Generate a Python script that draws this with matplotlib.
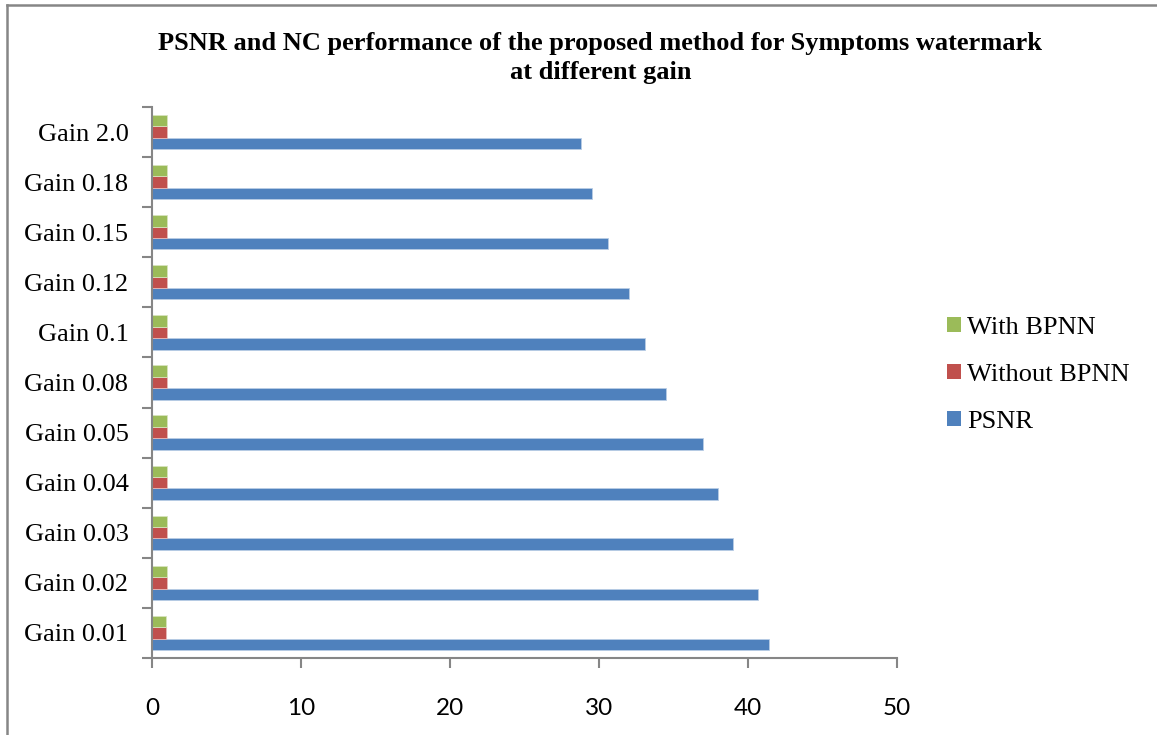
import matplotlib
matplotlib.use("Agg")
import matplotlib.pyplot as plt
from matplotlib.patches import Patch
from matplotlib.lines import Line2D
import numpy as np

categories = ["Gain 0.01", "Gain 0.02", "Gain 0.03", "Gain 0.04", "Gain 0.05",
              "Gain 0.08", "Gain 0.1", "Gain 0.12", "Gain 0.15", "Gain 0.18", "Gain 2.0"]
psnr = [41.4, 40.7, 39.0, 38.0, 37.0, 34.5, 33.1, 32.0, 30.6, 29.5, 28.8]
without_bpnn = [0.92, 0.99, 0.99, 0.99, 0.99, 0.99, 0.99, 0.99, 0.99, 0.99, 0.99]
with_bpnn = [0.94, 1.0, 1.0, 1.0, 1.0, 1.0, 1.0, 1.0, 1.0, 1.0, 1.0]
x_ticks = [0, 10, 20, 30, 40, 50]

BLUE, RED, GREEN = "#4F81BD", "#C0504D", "#9BBB59"
GRAY = "#868686"
serif = "Liberation Serif"
sans = ["Lato", "DejaVu Sans"]

fig = plt.figure(figsize=(11.57, 7.35), dpi=100)
ax = fig.add_axes([0.1314, 0.1048, 0.7753 - 0.1314, 0.8544 - 0.1048])

y = np.arange(len(categories))
h = 0.228
ax.barh(y - h, psnr, height=h, color=BLUE, edgecolor="#B9CDE5", linewidth=0.6)
ax.barh(y, without_bpnn, height=h, color=RED, edgecolor="#E6B9B8", linewidth=0.6)
ax.barh(y + h, with_bpnn, height=h, color=GREEN, edgecolor="#D7E4BD", linewidth=0.6)

ax.set_xlim(0, 50)
ax.set_ylim(-0.5, len(categories) - 0.5)
ax.set_xticks(x_ticks)
ax.set_xticklabels([str(t) for t in x_ticks], fontsize=17.5, family=sans)

# category boundaries carry the tick marks, centres carry the labels
ax.set_yticks(np.arange(-0.5, len(categories), 1.0))
ax.set_yticklabels([])
ax.set_yticks(y, minor=True)
ax.set_yticklabels(categories, minor=True, fontsize=19, family=serif)
ax.tick_params(axis="y", which="major", length=7, width=1.5, color=GRAY, direction="out")
ax.tick_params(axis="y", which="minor", length=0, pad=17)
ax.tick_params(axis="x", length=7, width=1.5, color=GRAY, direction="out", pad=22)

for side in ("top", "right"):
    ax.spines[side].set_visible(False)
for side in ("left", "bottom"):
    ax.spines[side].set_color(GRAY)
    ax.spines[side].set_linewidth(1.5)

fig.text(0.519, 1 - 58 / 735, "PSNR and NC performance of the proposed method for Symptoms watermark\nat different gain",
         ha="center", va="center", fontsize=19, fontweight="bold", family=serif, linespacing=1.32)

handles = [Patch(facecolor=GREEN, edgecolor="none"),
           Patch(facecolor=RED, edgecolor="none"),
           Patch(facecolor=BLUE, edgecolor="none")]
fig.legend(handles, ["With BPNN", "Without BPNN", "PSNR"], loc="center left",
           bbox_to_anchor=(947 / 1157, 1 - 375 / 735), frameon=False,
           prop={"family": serif, "size": 19}, handlelength=0.52, handleheight=0.52,
           handletextpad=0.25, labelspacing=0.95, borderpad=0, borderaxespad=0)

# outer chart border (left and top edges)
fig.add_artist(Line2D([6.5 / 1157, 6.5 / 1157], [0, 1 - 4.5 / 735], color=GRAY, lw=1.8,
                      transform=fig.transFigure))
fig.add_artist(Line2D([6.5 / 1157, 1], [1 - 4.5 / 735, 1 - 4.5 / 735], color=GRAY, lw=1.8,
                      transform=fig.transFigure))

fig.savefig("out.png", dpi=100)
